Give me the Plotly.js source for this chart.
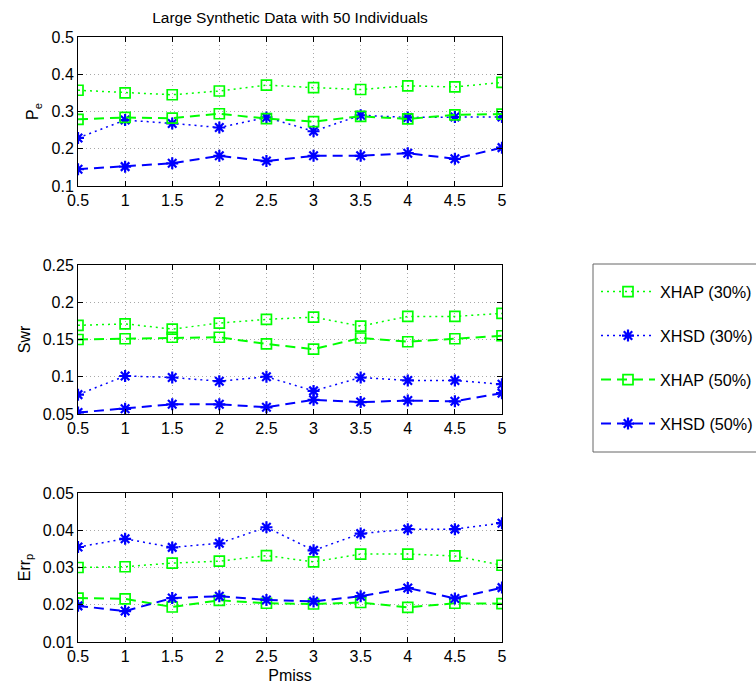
<!DOCTYPE html>
<html>
<head>
<meta charset="utf-8">
<script src="https://cdn.plot.ly/plotly-3.0.1.min.js"></script>
<style>html,body{margin:0;padding:0;background:#fff;}#chart{width:756px;height:688px;}</style>
</head>
<body>
<div id="chart"></div>
<script>
const pmiss = [0.5, 1, 1.5, 2, 2.5, 3, 3.5, 4, 4.5, 5];

const seriesNames = ['XHAP (30%)', 'XHSD (30%)', 'XHAP (50%)', 'XHSD (50%)'];

// Panel 1: P_e
const pe_xhap30 = [0.357, 0.350, 0.345, 0.355, 0.371, 0.364, 0.359, 0.369, 0.366, 0.378];
const pe_xhsd30 = [0.229, 0.277, 0.268, 0.257, 0.284, 0.247, 0.290, 0.284, 0.285, 0.285];
const pe_xhap50 = [0.279, 0.284, 0.282, 0.294, 0.281, 0.273, 0.287, 0.280, 0.291, 0.293];
const pe_xhsd50 = [0.145, 0.152, 0.161, 0.181, 0.167, 0.181, 0.181, 0.188, 0.173, 0.203];

// Panel 2: Swr
const swr_xhap30 = [0.169, 0.171, 0.164, 0.172, 0.177, 0.180, 0.168, 0.181, 0.181, 0.185];
const swr_xhsd30 = [0.076, 0.101, 0.099, 0.094, 0.100, 0.081, 0.099, 0.095, 0.095, 0.090];
const swr_xhap50 = [0.150, 0.151, 0.153, 0.153, 0.144, 0.137, 0.152, 0.147, 0.151, 0.155];
const swr_xhsd50 = [0.052, 0.057, 0.063, 0.063, 0.059, 0.069, 0.066, 0.068, 0.067, 0.078];

// Panel 3: Err_p
const err_xhap30 = [0.0300, 0.0302, 0.0312, 0.0317, 0.0332, 0.0315, 0.0336, 0.0336, 0.0331, 0.0306];
const err_xhsd30 = [0.0355, 0.0377, 0.0354, 0.0365, 0.0408, 0.0346, 0.0391, 0.0403, 0.0403, 0.0419];
const err_xhap50 = [0.0218, 0.0216, 0.0194, 0.0212, 0.0204, 0.0202, 0.0206, 0.0193, 0.0204, 0.0203];
const err_xhsd50 = [0.0197, 0.0183, 0.0218, 0.0223, 0.0213, 0.0209, 0.0223, 0.0245, 0.0217, 0.0246];

const GREEN = '#00ff00', BLUE = '#0000ff';
const DOTTED = '2px,4px', DASHED = '10px,6px';
const styles = [
  {color: GREEN, dash: DOTTED, width: 1.5, symbol: 'square-open', size: 10, mlw: 1.7},
  {color: BLUE, dash: DOTTED, width: 1.5, symbol: 'asterisk-open', size: 10, mlw: 2.2},
  {color: GREEN, dash: DASHED, width: 2, symbol: 'square-open', size: 10, mlw: 1.7},
  {color: BLUE, dash: DASHED, width: 2, symbol: 'asterisk-open', size: 10, mlw: 2.2}
];
const legendIds = ['legend', 'legend2', 'legend3', 'legend4'];

const panels = [
  {data: [pe_xhap30, pe_xhsd30, pe_xhap50, pe_xhsd50], xa: 'x', ya: 'y'},
  {data: [swr_xhap30, swr_xhsd30, swr_xhap50, swr_xhsd50], xa: 'x2', ya: 'y2'},
  {data: [err_xhap30, err_xhsd30, err_xhap50, err_xhsd50], xa: 'x3', ya: 'y3'}
];

const traces = [];
panels.forEach((p, pi) => {
  p.data.forEach((vals, si) => {
    const s = styles[si];
    traces.push({
      x: pmiss, y: vals, xaxis: p.xa, yaxis: p.ya,
      type: 'scatter', mode: 'lines+markers',
      name: seriesNames[si], legend: legendIds[si],
      showlegend: pi === 0,
      line: {color: s.color, dash: s.dash, width: s.width},
      marker: {symbol: s.symbol, size: s.size, color: s.color, line: {color: s.color, width: s.mlw}}
    });
  });
});

const FONT = 'Liberation Sans, Arial, Helvetica, sans-serif';
const xdom = [78/756, 502/756];
const GRIDCOL = '#a8a8a8', GRIDDASH = '1px,3px';
function xax(anchor, showTitle) {
  const a = {
    domain: xdom, anchor: anchor, range: [0.5, 5], dtick: 0.5, tick0: 0.5,
    showline: true, linecolor: '#000', linewidth: 1, mirror: 'allticks',
    ticks: 'inside', ticklen: 5, tickcolor: '#000',
    showgrid: true, gridcolor: GRIDCOL, griddash: GRIDDASH, gridwidth: 1, zeroline: false,
    tickfont: {family: FONT, size: 16, color: '#000'}
  };
  if (showTitle) a.title = {text: 'Pmiss', font: {family: FONT, size: 16, color: '#000'}, standoff: 5};
  return a;
}
function yax(anchor, dom, range, dtick, title) {
  return {
    domain: dom, anchor: anchor, range: range, dtick: dtick, tick0: range[0],
    showline: true, linecolor: '#000', linewidth: 1, mirror: 'allticks',
    ticks: 'inside', ticklen: 5, tickcolor: '#000',
    showgrid: true, gridcolor: GRIDCOL, griddash: GRIDDASH, gridwidth: 1, zeroline: false,
    tickfont: {family: FONT, size: 16, color: '#000'},
    title: {text: title, font: {family: FONT, size: 16, color: '#000'}, standoff: 8}
  };
}

const itemY = [292, 336, 380, 424];
function leg(i) {
  return {
    x: 596/756, xanchor: 'left', y: 1 - itemY[i]/688, yanchor: 'middle',
    bgcolor: 'rgba(0,0,0,0)', borderwidth: 0,
    font: {family: FONT, size: 16.2, color: '#000'},
    itemwidth: 54
  };
}

const layout = {
  width: 756, height: 688,
  margin: {l: 0, r: 0, t: 0, b: 0, autoexpand: false},
  paper_bgcolor: '#fff', plot_bgcolor: '#fff',
  font: {family: FONT, color: '#000'},
  title: {text: 'Large Synthetic Data with 50 Individuals', font: {family: FONT, size: 15.5, color: '#000'},
          x: 290/756, xanchor: 'center', xref: 'paper', y: 1 - 18/688, yanchor: 'middle'},
  xaxis: xax('y', false),
  yaxis: yax('x', [1 - 186/688, 1 - 37/688], [0.1, 0.5], 0.1, 'P<sub>e</sub>'),
  xaxis2: xax('y2', false),
  yaxis2: yax('x2', [1 - 414/688, 1 - 265/688], [0.05, 0.25], 0.05, 'Swr'),
  xaxis3: xax('y3', true),
  yaxis3: yax('x3', [1 - 642/688, 1 - 493/688], [0.01, 0.05], 0.01, 'Err<sub>p</sub>'),
  showlegend: true,
  legend: leg(0), legend2: leg(1), legend3: leg(2), legend4: leg(3),
  shapes: [{
    type: 'rect', xref: 'paper', yref: 'paper', layer: 'below',
    x0: 593/756, x1: 770/756, y0: 1 - 452/688, y1: 1 - 264/688,
    line: {color: '#666', width: 1}, fillcolor: '#fff'
  }]
};

Plotly.newPlot('chart', traces, layout, {displayModeBar: false, staticPlot: true});
</script>
</body>
</html>
